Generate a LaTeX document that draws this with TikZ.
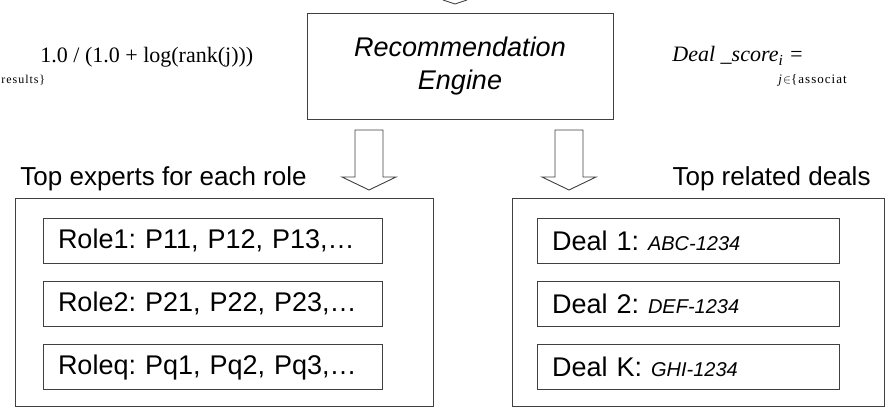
\documentclass[tikz,border=0pt]{standalone}
\usepackage{fontspec}
\setsansfont{Liberation Sans}
\newfontfamily\timesfont{Liberation Serif}
\newfontfamily\setfont[LetterSpace=8]{Liberation Serif}
\usetikzlibrary{positioning}

\begin{document}
\frenchspacing
\begin{tikzpicture}[x=1pt,y=-1pt,line width=0.9pt,
                    every node/.style={inner sep=0pt}]
  \tikzstyle{box}=[draw=black!75,rectangle]
  \tikzstyle{entry}=[box,minimum height=45pt,inner xsep=15pt,align=left,
                     font=\sffamily\fontsize{27}{33}\selectfont]
  \tikzstyle{blockarrow}=[draw=black!75,fill=white,line join=miter]
  \tikzstyle{heading}=[font=\sffamily\fontsize{26}{30}\selectfont]

  \useasboundingbox (0,0) rectangle (888,409);

  % engine and the scores beside it
  \draw[blockarrow] (443,0) -- (455,4) -- (467,0);
  \node[box,minimum width=306pt,minimum height=106pt,align=center,
        font=\sffamily\itshape\fontsize{27}{33}\selectfont]
        (engine) at (460,66) {Recommendation\\Engine};
  \node[anchor=base west,font=\timesfont\fontsize{22}{26}\selectfont]
        (rankf) at (40,63) {1.0 / (1.0 + log(rank(j)))};
  \node[anchor=base west,font=\setfont\fontsize{12}{14}\selectfont]
        (rankset) at (1,84) {results\}};
  \node[anchor=base west,font=\timesfont\itshape\fontsize{22}{26}\selectfont]
        (dealf) at (672,62) {Deal \_score\textsubscript{i} =};
  \node[anchor=base west,font=\setfont\fontsize{13}{15}\selectfont]
        (dealset) at (778,84) {\textit{j}$\in$\{associat};

  \foreach \x in {369,569}
    \draw[blockarrow] (\x-14,130) -- (\x+14,130) -- (\x+14,177) -- (\x+27,177)
                      -- (\x,190) -- (\x-27,177) -- (\x-14,177) -- cycle;

  % experts
  \node[heading,anchor=base west] (expertshead) at (20,185) {Top experts for each role};
  \node[box,minimum width=418pt,minimum height=208pt] (experts) at (224,302) {};
  \node[entry,text width=309pt] (role1) at (212.5,240.5) {Role1: P11, P12, P13,…};
  \node[entry,text width=309pt] (role2) [below=17.5pt of role1] {Role2: P21, P22, P23,…};
  \node[entry,text width=309pt] (roleq) [below=17.5pt of role2] {Roleq: Pq1, Pq2, Pq3,…};

  % deals
  \node[heading,anchor=base east] (dealshead) at (871,185) {Top related deals};
  \node[box,minimum width=372pt,minimum height=208pt] (deals) at (698,302) {};
  \node[entry,text width=272pt] (deal1) at (688,240.5)
        {Deal 1: {\itshape\fontsize{20}{24}\selectfont ABC-1234}};
  \node[entry,text width=272pt] (deal2) [below=17.5pt of deal1]
        {Deal 2: {\itshape\fontsize{20}{24}\selectfont DEF-1234}};
  \node[entry,text width=272pt] (dealk) [below=17.5pt of deal2]
        {Deal K: {\itshape\fontsize{20}{24}\selectfont GHI-1234}};
\end{tikzpicture}
\end{document}
